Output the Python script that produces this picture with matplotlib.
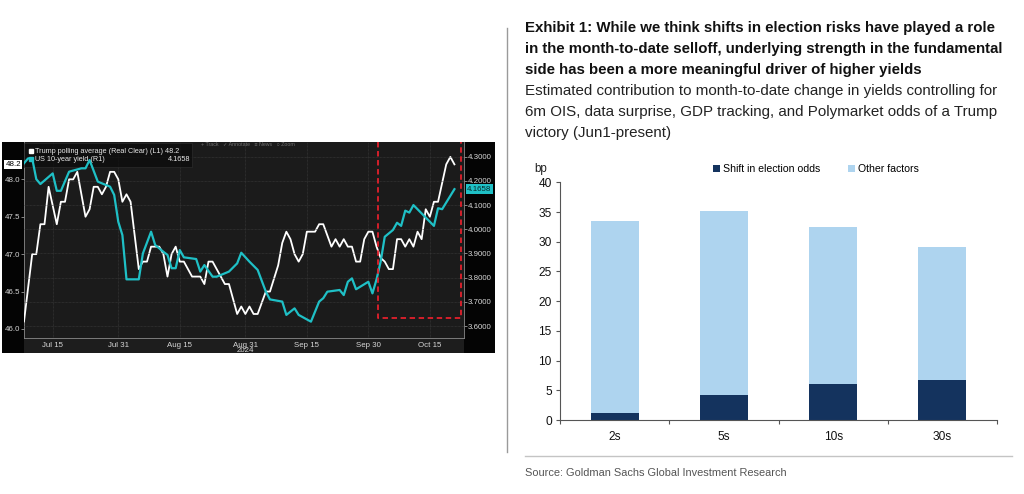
import matplotlib
matplotlib.use('Agg')
import matplotlib.pyplot as plt
import matplotlib.dates as mdates
from matplotlib.patches import Rectangle
from matplotlib.lines import Line2D
from matplotlib import font_manager

W, H = 1024, 494

# --- Left panel data ---
poll_dates = ['2024-07-08', '2024-07-10', '2024-07-11', '2024-07-12', '2024-07-13', '2024-07-14',
              '2024-07-16', '2024-07-17', '2024-07-18', '2024-07-19', '2024-07-20', '2024-07-21',
              '2024-07-23', '2024-07-24', '2024-07-25', '2024-07-26', '2024-07-27', '2024-07-28',
              '2024-07-29', '2024-07-30', '2024-07-31', '2024-08-01', '2024-08-02', '2024-08-03',
              '2024-08-05', '2024-08-06', '2024-08-07', '2024-08-08', '2024-08-10', '2024-08-11',
              '2024-08-12', '2024-08-13', '2024-08-14', '2024-08-15', '2024-08-16', '2024-08-18',
              '2024-08-20', '2024-08-21', '2024-08-22', '2024-08-23', '2024-08-24', '2024-08-26',
              '2024-08-27', '2024-08-29', '2024-08-30', '2024-08-31', '2024-09-01', '2024-09-02',
              '2024-09-03', '2024-09-04', '2024-09-05', '2024-09-06', '2024-09-08', '2024-09-09',
              '2024-09-10', '2024-09-11', '2024-09-12', '2024-09-13', '2024-09-14', '2024-09-15',
              '2024-09-17', '2024-09-18', '2024-09-19', '2024-09-20', '2024-09-21', '2024-09-22',
              '2024-09-23', '2024-09-24', '2024-09-25', '2024-09-26', '2024-09-27', '2024-09-28',
              '2024-09-29', '2024-09-30', '2024-10-01', '2024-10-02', '2024-10-03', '2024-10-04',
              '2024-10-05', '2024-10-06', '2024-10-07', '2024-10-08', '2024-10-09', '2024-10-10',
              '2024-10-11', '2024-10-12', '2024-10-13', '2024-10-14', '2024-10-15', '2024-10-16',
              '2024-10-17', '2024-10-18', '2024-10-19', '2024-10-20', '2024-10-21']
poll_values = [46.1, 47.0, 47.0, 47.4, 47.4, 47.9,
               47.4, 47.7, 47.7, 48.0, 48.0, 48.1,
               47.5, 47.6, 47.9, 47.9, 47.8, 47.9,
               48.1, 48.1, 48.0, 47.7, 47.8, 47.7,
               46.8, 46.9, 46.9, 47.1, 47.1, 47.0,
               46.7, 47.0, 47.1, 46.9, 46.9, 46.7,
               46.7, 46.6, 46.9, 46.9, 46.8, 46.6,
               46.6, 46.2, 46.3, 46.2, 46.3, 46.2,
               46.2, 46.35, 46.5, 46.5, 46.85, 47.15,
               47.3, 47.2, 47.0, 46.9, 47.0, 47.3,
               47.3, 47.4, 47.4, 47.25, 47.1, 47.2,
               47.1, 47.2, 47.1, 47.1, 46.9, 46.9,
               47.2, 47.3, 47.3, 47.1, 46.95, 46.9,
               46.8, 46.8, 47.2, 47.2, 47.1, 47.2,
               47.1, 47.3, 47.2, 47.6, 47.5, 47.7,
               47.7, 47.95, 48.2, 48.3, 48.2]

yield_dates = ['2024-07-08', '2024-07-09', '2024-07-10', '2024-07-11', '2024-07-12', '2024-07-15',
               '2024-07-16', '2024-07-17', '2024-07-19', '2024-07-22', '2024-07-23', '2024-07-24',
               '2024-07-26', '2024-07-28', '2024-07-29', '2024-07-30', '2024-07-31', '2024-08-01',
               '2024-08-02', '2024-08-05', '2024-08-06', '2024-08-08', '2024-08-09', '2024-08-11',
               '2024-08-12', '2024-08-13', '2024-08-14', '2024-08-15', '2024-08-16', '2024-08-19',
               '2024-08-20', '2024-08-21', '2024-08-23', '2024-08-24', '2024-08-27', '2024-08-29',
               '2024-08-30', '2024-09-01', '2024-09-03', '2024-09-05', '2024-09-06', '2024-09-09',
               '2024-09-10', '2024-09-12', '2024-09-13', '2024-09-16', '2024-09-18', '2024-09-19',
               '2024-09-20', '2024-09-23', '2024-09-24', '2024-09-25', '2024-09-26', '2024-09-27',
               '2024-09-30', '2024-10-01', '2024-10-02', '2024-10-03', '2024-10-04', '2024-10-06',
               '2024-10-07', '2024-10-08', '2024-10-09', '2024-10-10', '2024-10-11', '2024-10-16',
               '2024-10-17', '2024-10-18', '2024-10-21']
yield_values = [4.273, 4.293, 4.293, 4.207, 4.187, 4.231,
                4.159, 4.159, 4.238, 4.252, 4.252, 4.286,
                4.197, 4.183, 4.176, 4.142, 4.031, 3.976,
                3.793, 3.793, 3.900, 3.990, 3.935, 3.907,
                3.894, 3.839, 3.839, 3.914, 3.884, 3.877,
                3.825, 3.852, 3.804, 3.804, 3.825, 3.859,
                3.903, 3.866, 3.832, 3.742, 3.710, 3.701,
                3.646, 3.673, 3.646, 3.618, 3.701, 3.715,
                3.742, 3.749, 3.728, 3.783, 3.797, 3.752,
                3.783, 3.735, 3.793, 3.866, 3.969, 3.997,
                4.027, 4.014, 4.077, 4.069, 4.100, 4.014,
                4.087, 4.083, 4.1658]

date_ticks = ['2024-07-15', '2024-07-31', '2024-08-15', '2024-08-31', '2024-09-15', '2024-09-30', '2024-10-15']
date_labels = ['Jul 15', 'Jul 31', 'Aug 15', 'Aug 31', 'Sep 15', 'Sep 30', 'Oct 15']
left_ticks = [46.0, 46.5, 47.0, 47.5, 48.0]
right_ticks = [3.6, 3.7, 3.8, 3.9, 4.0, 4.1, 4.2, 4.3]
poll_last = 48.2
yield_last = 4.1658

# red dashed highlight box (Oct 2 -> Oct 22, bottom at ~3.632 on right axis)
box_left, box_right, box_bottom = '2024-10-02 07:00', '2024-10-22 14:00', 3.632

# --- Right panel data ---
tenors = ['2s', '5s', '10s', '30s']
election_odds = [1.2, 4.2, 6.0, 6.7]
other_factors = [32.3, 31.0, 26.5, 22.4]

# --- Fonts ---
installed = {f.name for f in font_manager.fontManager.ttflist}
HAS_NARROW = 'Liberation Sans Narrow' in installed
NARROW = ['Liberation Sans Narrow', 'DejaVu Sans'] if HAS_NARROW else ['Liberation Sans', 'DejaVu Sans']
SQUEEZE = 1.0 if HAS_NARROW else 0.84
ARIAL = ['Liberation Sans', 'DejaVu Sans']
DARK_FS = 6.7 * SQUEEZE  # text size on the Bloomberg panel

fig = plt.figure(figsize=(W / 100, H / 100), dpi=100)
fig.patch.set_facecolor('white')


def fx(px):
    return px / W


def fy(py):
    return 1 - py / H


# ================= Left: Bloomberg style dark chart =================
fig.patches.append(Rectangle((fx(2), fy(353)), fx(493), 211 / H, transform=fig.transFigure,
                             facecolor='#040404', edgecolor='none', zorder=-2))
fig.patches.append(Rectangle((fx(24), fy(353)), fx(440), 15 / H, transform=fig.transFigure,
                             facecolor='#1d1d1d', edgecolor='none', zorder=-1))

ax1 = fig.add_axes([fx(24), fy(338), fx(440), 196 / H])
ax1.set_facecolor('#1b1b1b')
ax2 = ax1.twinx()

pd_num = mdates.datestr2num(poll_dates)
yd_num = mdates.datestr2num(yield_dates)

ax1.plot(pd_num, poll_values, color='white', lw=1.3, zorder=3)
ax2.plot(yd_num, yield_values, color='#1fc0c6', lw=1.6, zorder=3)

ax1.set_xlim(mdates.datestr2num('2024-07-08'), mdates.datestr2num('2024-10-23 08:00'))
ax1.set_ylim(45.879, 48.499)
ax2.set_ylim(3.5505, 4.3608)

ax1.set_xticks(mdates.datestr2num(date_ticks))
ax1.set_xticklabels(date_labels)
ax1.set_yticks(left_ticks)
ax1.set_yticklabels([f'{v:.1f}' for v in left_ticks])
ax2.set_yticks(right_ticks)
ax2.set_yticklabels([f'{v:.4f}' for v in right_ticks])

for lab in ax1.get_xticklabels() + ax1.get_yticklabels() + ax2.get_yticklabels():
    lab.set_fontfamily(NARROW)
    lab.set_fontsize(DARK_FS)
    lab.set_color('#d6d6d6')

ax1.tick_params(axis='x', length=0, pad=3)
ax1.tick_params(axis='y', direction='out', length=2, width=0.6, color='#9a9a9a', pad=1)
ax2.tick_params(axis='y', direction='out', length=2, width=0.6, color='#9a9a9a', pad=1)

ax2.grid(axis='y', color='#3c3c3c', lw=0.5, ls=(0, (1, 1)))
ax1.grid(axis='x', color='#3c3c3c', lw=0.5, ls=(0, (1, 1)))
ax1.set_axisbelow(True)
ax2.set_axisbelow(True)

ax1.spines['top'].set_visible(False)
ax2.spines['top'].set_visible(False)
ax2.spines['bottom'].set_visible(False)
ax1.spines['bottom'].set_color('#8a8a8a')
ax1.spines['bottom'].set_linewidth(0.6)
ax1.spines['left'].set_color('#8a8a8a')
ax1.spines['left'].set_linewidth(0.6)
ax1.spines['right'].set_visible(False)
ax2.spines['left'].set_visible(False)
ax2.spines['right'].set_color('#8a8a8a')
ax2.spines['right'].set_linewidth(0.6)

# year label under Aug 31
ax1.text(mdates.datestr2num('2024-08-31'), -0.066, '2024', transform=ax1.get_xaxis_transform(),
         ha='center', va='center', fontsize=DARK_FS, family=NARROW, color='#d6d6d6')

# last value badges
ax1.text(-0.024, poll_last, f'{poll_last:.1f}', transform=ax1.get_yaxis_transform(),
         ha='center', va='center', fontsize=DARK_FS, family=NARROW, color='black',
         bbox=dict(boxstyle='square,pad=0.15', facecolor='white', edgecolor='none'), clip_on=False)
ax2.text(1.035, yield_last, f'{yield_last:.4f}', transform=ax2.get_yaxis_transform(),
         ha='center', va='center', fontsize=DARK_FS, family=NARROW, color='#062a2b',
         bbox=dict(boxstyle='square,pad=0.15', facecolor='#1fc0c6', edgecolor='none'), clip_on=False)

# red dashed highlight box
bx0, bx1 = mdates.datestr2num(box_left), mdates.datestr2num(box_right)
ytop = ax2.get_ylim()[1]
ax2.plot([bx0, bx0, bx1, bx1], [ytop, box_bottom, box_bottom, ytop], color='#e3202c',
         lw=1.3, ls=(0, (3, 2)), zorder=4, clip_on=False)

# legend box
ax2.add_patch(Rectangle((0, (338 - 167) / 196), (192 - 24) / 440, 24 / 196, transform=ax2.transAxes,
                        facecolor='#0c0c0c', edgecolor='#2e2e2e', lw=0.6, alpha=0.75, zorder=2))
ax2.plot([0.016], [0.954], marker='s', ms=3.2, color='white', transform=ax2.transAxes, zorder=5)
ax2.plot([0.016], [0.912], marker='s', ms=3.2, color='#1fc0c6', transform=ax2.transAxes, zorder=5)
ax2.text(0.026, 0.954, 'Trump polling average (Real Clear) (L1) 48.2', transform=ax2.transAxes,
         ha='left', va='center', fontsize=6.2 * SQUEEZE, family=NARROW, color='#e8e8e8', zorder=5)
ax2.text(0.026, 0.912, 'US 10-year yield (R1)', transform=ax2.transAxes,
         ha='left', va='center', fontsize=6.2 * SQUEEZE, family=NARROW, color='#e8e8e8', zorder=5)
ax2.text(0.377, 0.912, '4.1658', transform=ax2.transAxes,
         ha='right', va='center', fontsize=6.2 * SQUEEZE, family=NARROW, color='#e8e8e8', zorder=5)

# tiny toolbar
ax2.text(0.402, 0.985, '+ Track   ✓ Annotate   ≡ News   ○ Zoom', transform=ax2.transAxes,
         ha='left', va='center', fontsize=3.8, family=NARROW, color='#6f6f6f', zorder=5)

# ================= Divider =================
fig.add_artist(Line2D([fx(507), fx(507)], [fy(28), fy(452)], color='#9a9a9a', lw=1.0))

# ================= Right: title block =================
title_lines = ['Exhibit 1: While we think shifts in election risks have played a role',
               'in the month-to-date selloff, underlying strength in the fundamental',
               'side has been a more meaningful driver of higher yields']
sub_lines = ['Estimated contribution to month-to-date change in yields controlling for',
             '6m OIS, data surprise, GDP tracking, and Polymarket odds of a Trump',
             'victory (Jun1-present)']
for i, t in enumerate(title_lines):
    fig.text(fx(525), fy(28 + 21 * i), t, ha='left', va='center', family=NARROW,
             fontsize=12.9 * SQUEEZE, weight='bold', color='#111111')
for i, t in enumerate(sub_lines):
    fig.text(fx(525), fy(91 + 21 * i), t, ha='left', va='center', family=NARROW,
             fontsize=13.0 * SQUEEZE, color='#222222')

# ================= Right: stacked bars =================
ax3 = fig.add_axes([fx(560), fy(420), fx(437), 237.7 / H])
x = list(range(len(tenors)))
ax3.bar(x, election_odds, width=0.44, color='#14335e', label='Shift in election odds')
ax3.bar(x, other_factors, width=0.44, bottom=election_odds, color='#aed4ef', label='Other factors')

ax3.set_xlim(-0.5, len(tenors) - 0.5)
ax3.set_ylim(0, 40)
ax3.set_yticks(range(0, 41, 5))
ax3.set_xticks(x)
ax3.set_xticklabels(tenors)
ax3.set_xticks([i - 0.5 for i in range(len(tenors) + 1)], minor=True)
ax3.tick_params(axis='x', which='major', length=0, pad=8)
ax3.tick_params(axis='x', which='minor', direction='out', length=3, width=0.8, color='#555555')
ax3.tick_params(axis='y', direction='out', length=3, width=0.8, color='#555555', pad=3)
for lab in ax3.get_xticklabels() + ax3.get_yticklabels():
    lab.set_fontfamily(ARIAL)
    lab.set_fontsize(8.6)
    lab.set_color('#111111')
for sp in ['top', 'right']:
    ax3.spines[sp].set_visible(False)
for sp in ['left', 'bottom']:
    ax3.spines[sp].set_color('#555555')
    ax3.spines[sp].set_linewidth(0.8)

ax3.legend(loc='center', bbox_to_anchor=(0.585, 1.056), ncol=2, frameon=False,
           handlelength=0.7, handleheight=0.7, handletextpad=0.25, columnspacing=2.6,
           prop=dict(family=ARIAL, size=7.6), borderaxespad=0)
fig.text(fx(541), fy(169), 'bp', ha='center', va='center', family=ARIAL, fontsize=8.4, color='#222222')

# ================= Footer =================
fig.add_artist(Line2D([fx(525), fx(1012)], [fy(456), fy(456)], color='#c4c4c4', lw=1.0))
fig.text(fx(525), fy(473), 'Source: Goldman Sachs Global Investment Research', ha='left', va='center',
         family=NARROW, fontsize=9.45 * SQUEEZE, color='#555555')

fig.savefig('out.png', dpi=100, facecolor='white')
